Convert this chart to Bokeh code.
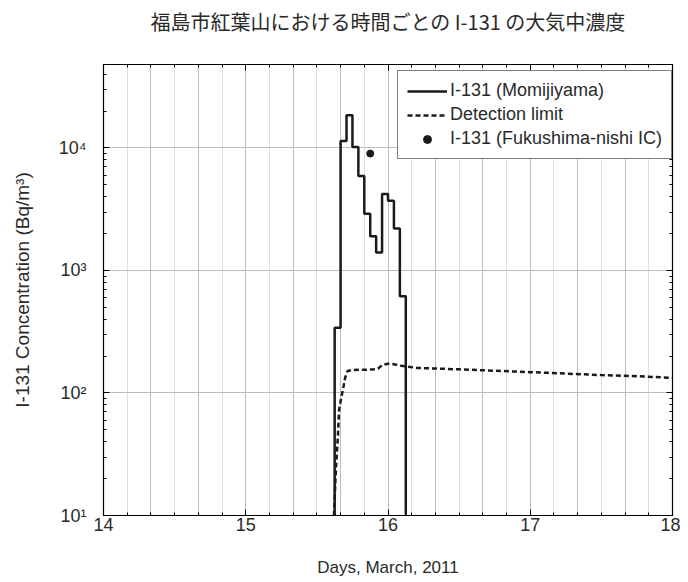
from bokeh.plotting import figure
from bokeh.models import (FixedTicker, LinearAxis, LogAxis, Range1d, Legend, LegendItem,
                          CustomJSTickFormatter)
from bokeh.embed import file_html
from bokeh.resources import INLINE

# ---------------- data ----------------
title_text = "福島市紅葉山における時間ごとの I-131 の大気中濃度"
x_label = "Days, March, 2011"
y_label = "I-131 Concentration (Bq/m³)"

# Momijiyama hourly I-131 (hours counted from 00:00, 15 March)
mom_hours = [15, 16, 17, 18, 19, 20, 21, 22, 23, 24, 25, 26]
mom_values = [340, 11400, 18500, 10200, 5900, 2900, 1900, 1400, 4200, 3700, 2200, 615]
mom_end_hour = 27
below_range = 1

# Fukushima-nishi IC point
ic_hours = [21]
ic_values = [9000]

# detection limit (day of March, Bq/m3)
dl_days = [15.620, 15.634, 15.648, 15.656, 15.669, 15.688, 15.700, 15.716, 15.75, 15.80,
           15.85, 15.90, 15.93, 15.962, 16.0, 16.021, 16.05, 16.092, 16.139, 16.208,
           16.5, 16.75, 17.0, 17.124, 17.5, 17.75, 18.0]
dl_values = [10, 24, 45, 73, 88, 114, 135, 151, 154, 155,
             155, 156, 158, 170, 173, 173, 171, 167, 164, 160,
             156, 152, 148, 146, 140, 137, 133]

x_ticks = [14, 15, 16, 17, 18]
y_ticks = [10, 100, 1000, 10000]
y_tick_labels = ["10¹", "10²", "10³", "10⁴"]
series_names = ["I-131 (Momijiyama)", "Detection limit", "I-131 (Fukushima-nishi IC)"]

# ---------------- derived ----------------
mom_days = [15 + h / 24 for h in mom_hours]
step_x = [mom_days[0]] + mom_days + [15 + mom_end_hour / 24]
step_y = [below_range] + mom_values + [below_range]
ic_days = [15 + h / 24 for h in ic_hours]

four_hour = [14 + k / 6 for k in range(25)]
eight_hour = [14 + k / 3 for k in range(13)]
y_minor = [m * 10 ** e for e in range(1, 5) for m in range(2, 10)]

FONT = "Liberation Sans"
TXT = "#2a2a2a"
FW, FH = 569, 451

p = figure(frame_width=FW, frame_height=FH,
           x_range=Range1d(14, 18), y_range=Range1d(10, 48000),
           y_axis_type="log", output_backend="svg", toolbar_location=None,
           min_border_left=103, min_border_right=8, min_border_top=62, min_border_bottom=66,
           background_fill_color="white", border_fill_color="white")

p.outline_line_color = "black"
p.outline_line_width = 1.2

# grids
p.xgrid.ticker = FixedTicker(ticks=eight_hour, minor_ticks=four_hour)
p.xgrid.grid_line_color = "#bdbdbd"
p.xgrid.grid_line_width = 1
p.xgrid.minor_grid_line_color = "#dedede"
p.xgrid.minor_grid_line_width = 1
p.ygrid.ticker = FixedTicker(ticks=y_ticks)
p.ygrid.grid_line_color = "#bdbdbd"

x_ticker = FixedTicker(ticks=x_ticks, minor_ticks=four_hour)
y_ticker = FixedTicker(ticks=y_ticks, minor_ticks=y_minor)
y_fmt = CustomJSTickFormatter(args=dict(yt=y_ticks, yl=y_tick_labels), code="""
const i = yt.findIndex(t => Math.abs(Math.log10(t) - Math.log10(tick)) < 1e-6);
return i >= 0 ? yl[i] : "";
""")
blank = CustomJSTickFormatter(code="return '';")

def style_axis(ax):
    ax.axis_line_color = "black"
    ax.major_tick_in = 6
    ax.major_tick_out = 0
    ax.minor_tick_in = 3
    ax.minor_tick_out = 0
    ax.major_tick_line_color = "black"
    ax.minor_tick_line_color = "black"
    ax.major_label_text_font = FONT
    ax.major_label_text_font_size = "18px"
    ax.major_label_text_color = TXT
    ax.axis_label_text_font = FONT
    ax.axis_label_text_font_size = "17px"
    ax.axis_label_text_font_style = "normal"
    ax.axis_label_text_color = TXT

xa = p.xaxis[0]
xa.ticker = x_ticker
style_axis(xa)
xa.major_label_standoff = 2
xa.axis_label = x_label
xa.axis_label_standoff = 24

ya = p.yaxis[0]
ya.ticker = y_ticker
ya.formatter = y_fmt
style_axis(ya)
ya.major_label_standoff = 17
ya.axis_label = y_label
ya.axis_label_text_font_size = "19px"
ya.axis_label_standoff = 23

top = LinearAxis(ticker=x_ticker, formatter=blank)
style_axis(top)
top.major_label_standoff = 0
p.add_layout(top, "above")

right = LogAxis(ticker=y_ticker, formatter=blank)
style_axis(right)
right.major_label_standoff = 0
p.add_layout(right, "right")

# title: a trailing blank line lifts it away from the frame
p.title.text = title_text + "\n"
p.title.text_font = "Noto Sans CJK JP"
p.title.text_font_size = "20px"
p.title.text_font_style = "normal"
p.title.text_color = TXT
p.title.align = "center"
p.title.text_line_height = 0.8

# data
r_mom = p.step(step_x, step_y, mode="after", line_color="#1a1a1a", line_width=2.5)
r_dl = p.line(dl_days, dl_values, line_color="#1a1a1a", line_width=2.5, line_dash="5 3")
r_ic = p.scatter(ic_days, ic_values, size=7, color="#1a1a1a")

legend = Legend(items=[LegendItem(label=series_names[0], renderers=[r_mom]),
                       LegendItem(label=series_names[1], renderers=[r_dl]),
                       LegendItem(label=series_names[2], renderers=[r_ic])],
                location=(294, 356))
legend.label_text_font = FONT
legend.label_text_font_size = "18px"
legend.label_text_color = TXT
legend.glyph_width = 40
legend.glyph_height = 20
legend.spacing = 3
legend.padding = 9
legend.label_standoff = 3
legend.margin = 0
legend.border_line_color = "black"
legend.border_line_width = 1.5
legend.background_fill_alpha = 1
p.add_layout(legend)

open("out.html", "w").write(file_html(p, INLINE))
